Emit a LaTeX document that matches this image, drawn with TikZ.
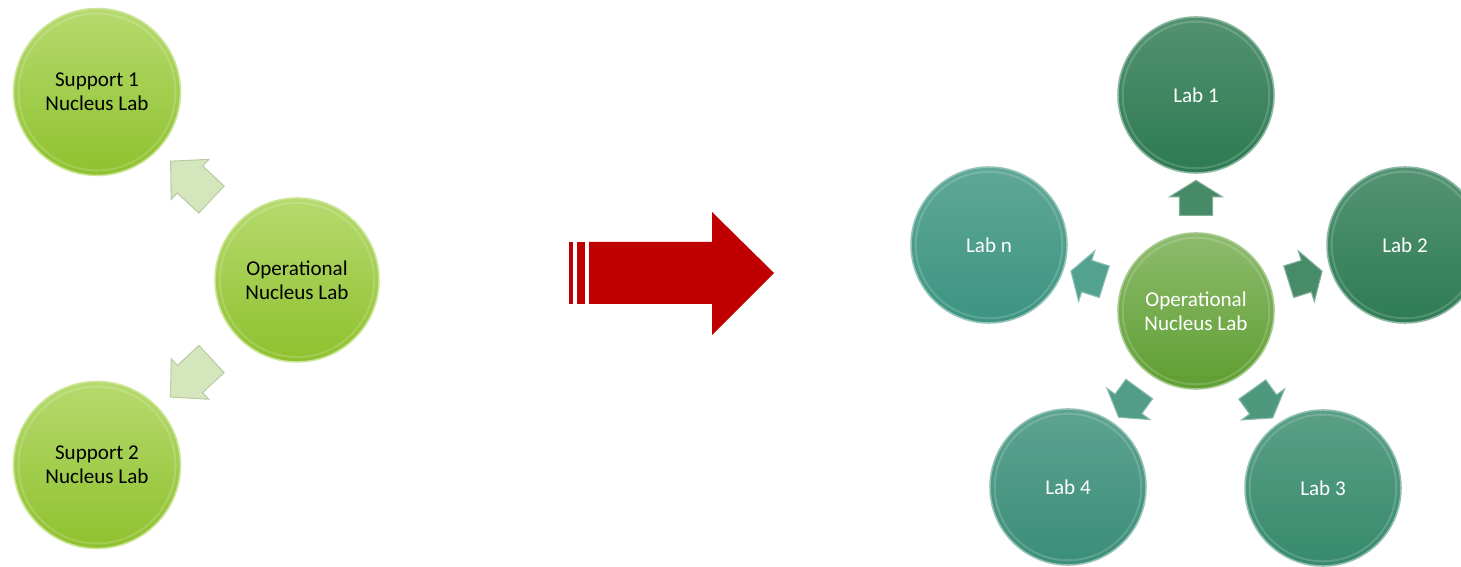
\documentclass[tikz,border=0pt]{standalone}
\usepackage{fontspec}
\setmainfont{Carlito}
\usetikzlibrary{shapes.arrows}
\definecolor{LeafTop}{HTML}{B6DA6E}
\definecolor{LeafBase}{HTML}{8EC12E}
\definecolor{HubBase}{HTML}{5E9E30}
\definecolor{PineBase}{HTML}{2D7A52}
\definecolor{TealBase}{HTML}{3A8E78}
\definecolor{MistBase}{HTML}{3C9480}
\definecolor{SeaBase}{HTML}{368A6C}
\definecolor{PaleLeaf}{HTML}{D4E7BC}
\definecolor{ShiftRed}{HTML}{C00000}
\tikzset{
  every node/.style={font=\fontsize{12}{13.6}\selectfont, align=center},
  ball/.style={circle, inner sep=0pt, line width=0.9pt, shading angle=0,
    path picture={\draw[white, opacity=0.16, line width=1.2pt]
      (path picture bounding box.center) circle [radius=0.94*\pgfkeysvalueof{/pgf/minimum width}/2];}},
  support/.style={ball, minimum size=3.34cm, draw=LeafTop!70!white,
    top color=LeafTop, bottom color=LeafBase, text=black},
  hub/.style={ball, minimum size=3.12cm, draw=HubBase!55!white,
    top color=HubBase!70!white, bottom color=HubBase, text=white},
  lab/.style={ball, minimum size=3.12cm, draw=#1!55!white,
    top color=#1!82!white, bottom color=#1, text=white},
  palearrow/.style={single arrow, sloped, allow upside down, inner xsep=0pt,
    inner ysep=0.36cm, minimum height=1.12cm, single arrow head extend=0.18cm,
    single arrow tip angle=92, fill=PaleLeaf, draw=PaleLeaf!80!black!60!PaleLeaf, line width=0.6pt},
  labarrow/.style={single arrow, sloped, allow upside down, inner xsep=0pt,
    inner ysep=0.32cm, minimum height=0.7cm, single arrow head extend=0.2cm,
    single arrow tip angle=116, fill=#1!88!white, draw=#1!60!white, line width=0.6pt},
}
\begin{document}
\begin{tikzpicture}[x=0.02cm, y=-0.02cm]
  \useasboundingbox (0,0) rectangle (1461,567);
  \clip (0,0) rectangle (1461,567);
  % Before: one operational lab with two support labs
  \node[support] (supA) at (97,92) {Support 1\\Nucleus Lab};
  \node[support, minimum size=3.28cm] (opLeft) at (297,280) {Operational\\Nucleus Lab};
  \node[support] (supB) at (97,465) {Support 2\\Nucleus Lab};
  \path (opLeft) -- node[palearrow] {} (supA);
  \path (opLeft) -- node[palearrow] {} (supB);
  % Transition arrow
  \fill[ShiftRed] (569,242) rectangle (573,304);
  \fill[ShiftRed] (577,242) rectangle (585,304);
  \fill[ShiftRed] (589,242) -- (712,242) -- (712,212) -- (774,273)
    -- (712,335) -- (712,304) -- (589,304) -- cycle;
  % After: operational lab feeding many labs
  \node[hub] (opRight) at (1196,311) {Operational\\Nucleus Lab};
  \node[lab=PineBase] (labA) at (1196,95) {Lab 1};
  \node[lab=PineBase!92!TealBase] (labB) at (1405,245) {Lab 2};
  \node[lab=SeaBase] (labC) at (1323,488) {Lab 3};
  \node[lab=TealBase] (labD) at (1068,487) {Lab 4};
  \node[lab=MistBase] (labN) at (989,245) {Lab n};
  \path (opRight) -- node[labarrow=PineBase] {} (labA);
  \path (opRight) -- node[labarrow=PineBase!92!TealBase] {} (labB);
  \path (opRight) -- node[labarrow=SeaBase] {} (labC);
  \path (opRight) -- node[labarrow=TealBase] {} (labD);
  \path (opRight) -- node[labarrow=MistBase] {} (labN);
\end{tikzpicture}
\end{document}
